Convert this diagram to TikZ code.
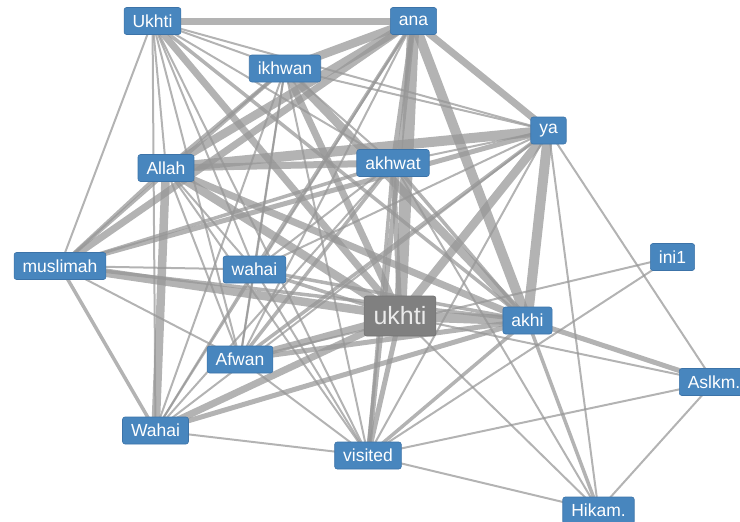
\documentclass[tikz,border=0pt]{standalone}
\usepackage{fontspec}
\setmainfont{Liberation Sans}
\usetikzlibrary{backgrounds}
\definecolor{nodeblue}{RGB}{72,134,190}
\definecolor{nodeborder}{RGB}{60,115,168}
\definecolor{edgegray}{RGB}{150,150,150}
\definecolor{hubgray}{RGB}{128,128,128}
\tikzset{
  word/.style={rectangle, rounded corners=2.5pt, fill=nodeblue, draw=nodeborder, line width=0.6pt,
    text=white, font=\fontsize{17.5}{18}\selectfont, inner xsep=8.5pt, inner ysep=0pt, minimum height=27pt},
  hub/.style={word, fill=hubgray, draw=hubgray!90!black, text=white!92!black,
    font=\fontsize{25}{26}\selectfont, inner xsep=9.5pt, minimum height=40pt},
  link/.style={draw=edgegray, draw opacity=0.72, line width=#1}
}
\begin{document}
\begin{tikzpicture}[x=1pt,y=-1pt]
\useasboundingbox (0,0) rectangle (740,522);
\clip (0,0) rectangle (740,522);
% nodes
\node[word] (uk1) at (152.5,21) {Ukhti};
\node[word] (ana) at (413.5,21) {ana};
\node[word] (ikhwan) at (285,68.5) {ikhwan};
\node[word] (ya) at (548.5,130.5) {ya};
\node[word] (allah) at (166,168) {Allah};
\node[word] (akhwat) at (393,163) {akhwat};
\node[word] (muslimah) at (60,266) {muslimah};
\node[word] (wahai) at (254.5,269.5) {wahai};
\node[word] (ini) at (672.5,257) {ini1};
\node[hub] (hub) at (400,316) {ukhti};
\node[word] (akhi) at (527.5,320.5) {akhi};
\node[word] (afwan) at (240,359.5) {Afwan};
\node[word,anchor=west] (aslkm) at (679,382) {Aslkm.};
\node[word] (wahaiC) at (155.5,430.5) {Wahai};
\node[word] (visited) at (368,455.5) {visited};
\node[word] (hikam) at (598.5,510.5) {Hikam.};
% edges
\begin{pgfonlayer}{background}
\foreach \a/\b/\w in {
  uk1/ana/7, uk1/muslimah/2, uk1/allah/2, uk1/wahaiC/2, uk1/wahai/2, uk1/afwan/2,
  uk1/hub/7, uk1/akhi/3.5, uk1/ikhwan/2, uk1/ya/2, uk1/visited/2, uk1/akhwat/2,
  ana/ikhwan/8.5, ana/allah/8.5, ana/muslimah/7, ana/akhwat/5, ana/hub/12, ana/akhi/10,
  ana/ya/7, ana/visited/5, ana/wahai/3.5, ana/afwan/2, ana/wahaiC/2,
  ikhwan/allah/3.5, ikhwan/muslimah/3.5, ikhwan/wahai/2, ikhwan/afwan/2, ikhwan/wahaiC/2,
  ikhwan/hub/7, ikhwan/akhi/8.5, ikhwan/visited/2, ikhwan/ya/2, ikhwan/akhwat/2,
  ya/allah/10, ya/akhwat/2, ya/hub/8.5, ya/akhi/10, ya/afwan/3.5, ya/wahaiC/2, ya/wahai/2,
  ya/visited/2, ya/hikam/2, ya/aslkm/2, ya/muslimah/5,
  allah/akhwat/7, allah/wahaiC/8.5, allah/hub/8.5, allah/akhi/7, allah/muslimah/3.5,
  allah/wahai/2, allah/afwan/2, allah/visited/2,
  akhwat/hub/5, akhwat/akhi/3.5, akhwat/afwan/3.5, akhwat/wahaiC/2, akhwat/wahai/2,
  akhwat/muslimah/3.5, akhwat/visited/3.5, akhwat/hikam/2,
  muslimah/wahai/2, muslimah/hub/8.5, muslimah/akhi/3.5, muslimah/afwan/2, muslimah/wahaiC/3.5,
  wahai/hub/3.5, wahai/akhi/3.5, wahai/afwan/2, wahai/wahaiC/2, wahai/visited/2,
  afwan/hub/7, afwan/akhi/5, afwan/visited/2, afwan/ini/2,
  wahaiC/hub/7, wahaiC/akhi/5, wahaiC/visited/2,
  hub/akhi/10, hub/visited/5, hub/aslkm/2, hub/hikam/2,
  akhi/visited/3.5, akhi/aslkm/5, akhi/hikam/3.5,
  visited/ini/2, visited/aslkm/2, visited/hikam/2, aslkm/hikam/2}
  \draw[link=\w pt] (\a.center) -- (\b.center);
\end{pgfonlayer}
\end{tikzpicture}
\end{document}
